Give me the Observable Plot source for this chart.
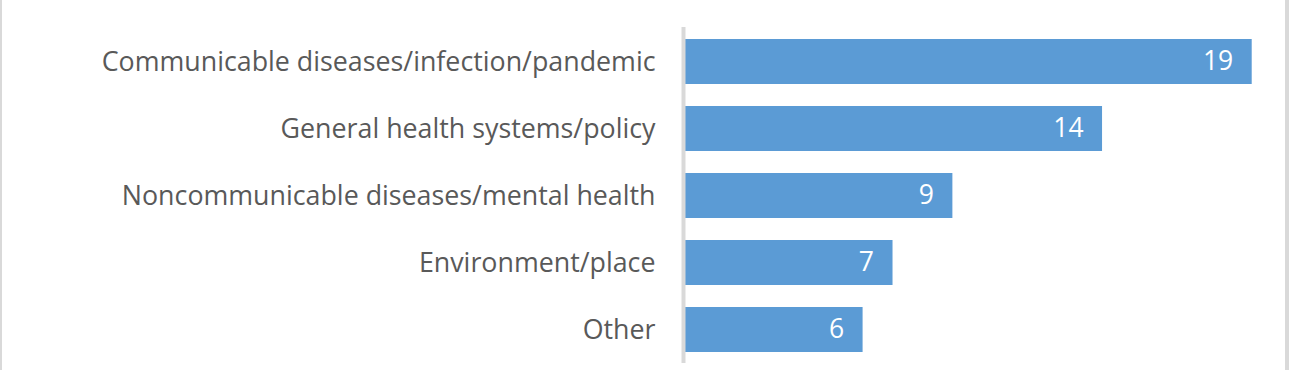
<!DOCTYPE html>
<html>
<head>
<meta charset="utf-8">
<script src="https://cdn.jsdelivr.net/npm/d3@7"></script>
<script src="https://cdn.jsdelivr.net/npm/@observablehq/plot@0.6"></script>
<style>
  html, body { margin: 0; padding: 0; background: #fff; }
  #wrap { position: relative; width: 1292px; height: 370px; }
  #wrap::before { content: ""; position: absolute; left: 0; top: 0; width: 2px; height: 370px; background: #d9d9d9; }
  #wrap::after { content: ""; position: absolute; left: 1285px; top: 0; width: 4px; height: 370px; background: #d9d9d9; }
  svg { display: block; }
</style>
</head>
<body>
<div id="wrap"></div>
<script>
const categories = [
  "Communicable diseases/infection/pandemic",
  "General health systems/policy",
  "Noncommunicable diseases/mental health",
  "Environment/place",
  "Other"
];
const counts = [19, 14, 9, 7, 6];

const data = categories.map((c, i) => ({category: c, count: counts[i]}));

const font = "'Open Sans', 'Noto Sans', sans-serif";

const chart = Plot.plot({
  width: 1292,
  height: 370,
  marginTop: 27,
  marginBottom: 7,
  marginLeft: 683,
  marginRight: 40.3,
  style: {fontFamily: font, background: "transparent", overflow: "visible"},
  x: {domain: [0, 19], axis: null},
  y: {domain: categories, paddingInner: 0.33, paddingOuter: 0.165, label: null},
  marks: [
    Plot.barX(data, {x: "count", y: "category", fill: "#5b9bd5"}),
    Plot.ruleX([0], {stroke: "#d9d9d9", strokeWidth: 4}),
    Plot.axisY({tickSize: 0, tickPadding: 28, fontSize: 26.8, fill: "#595959", label: null}),
    Plot.text(data, {x: "count", y: "category", text: d => String(d.count), textAnchor: "end", dx: -19, fill: "#ffffff", fontSize: 26.5})
  ]
});
document.getElementById("wrap").appendChild(chart);
</script>
</body>
</html>
